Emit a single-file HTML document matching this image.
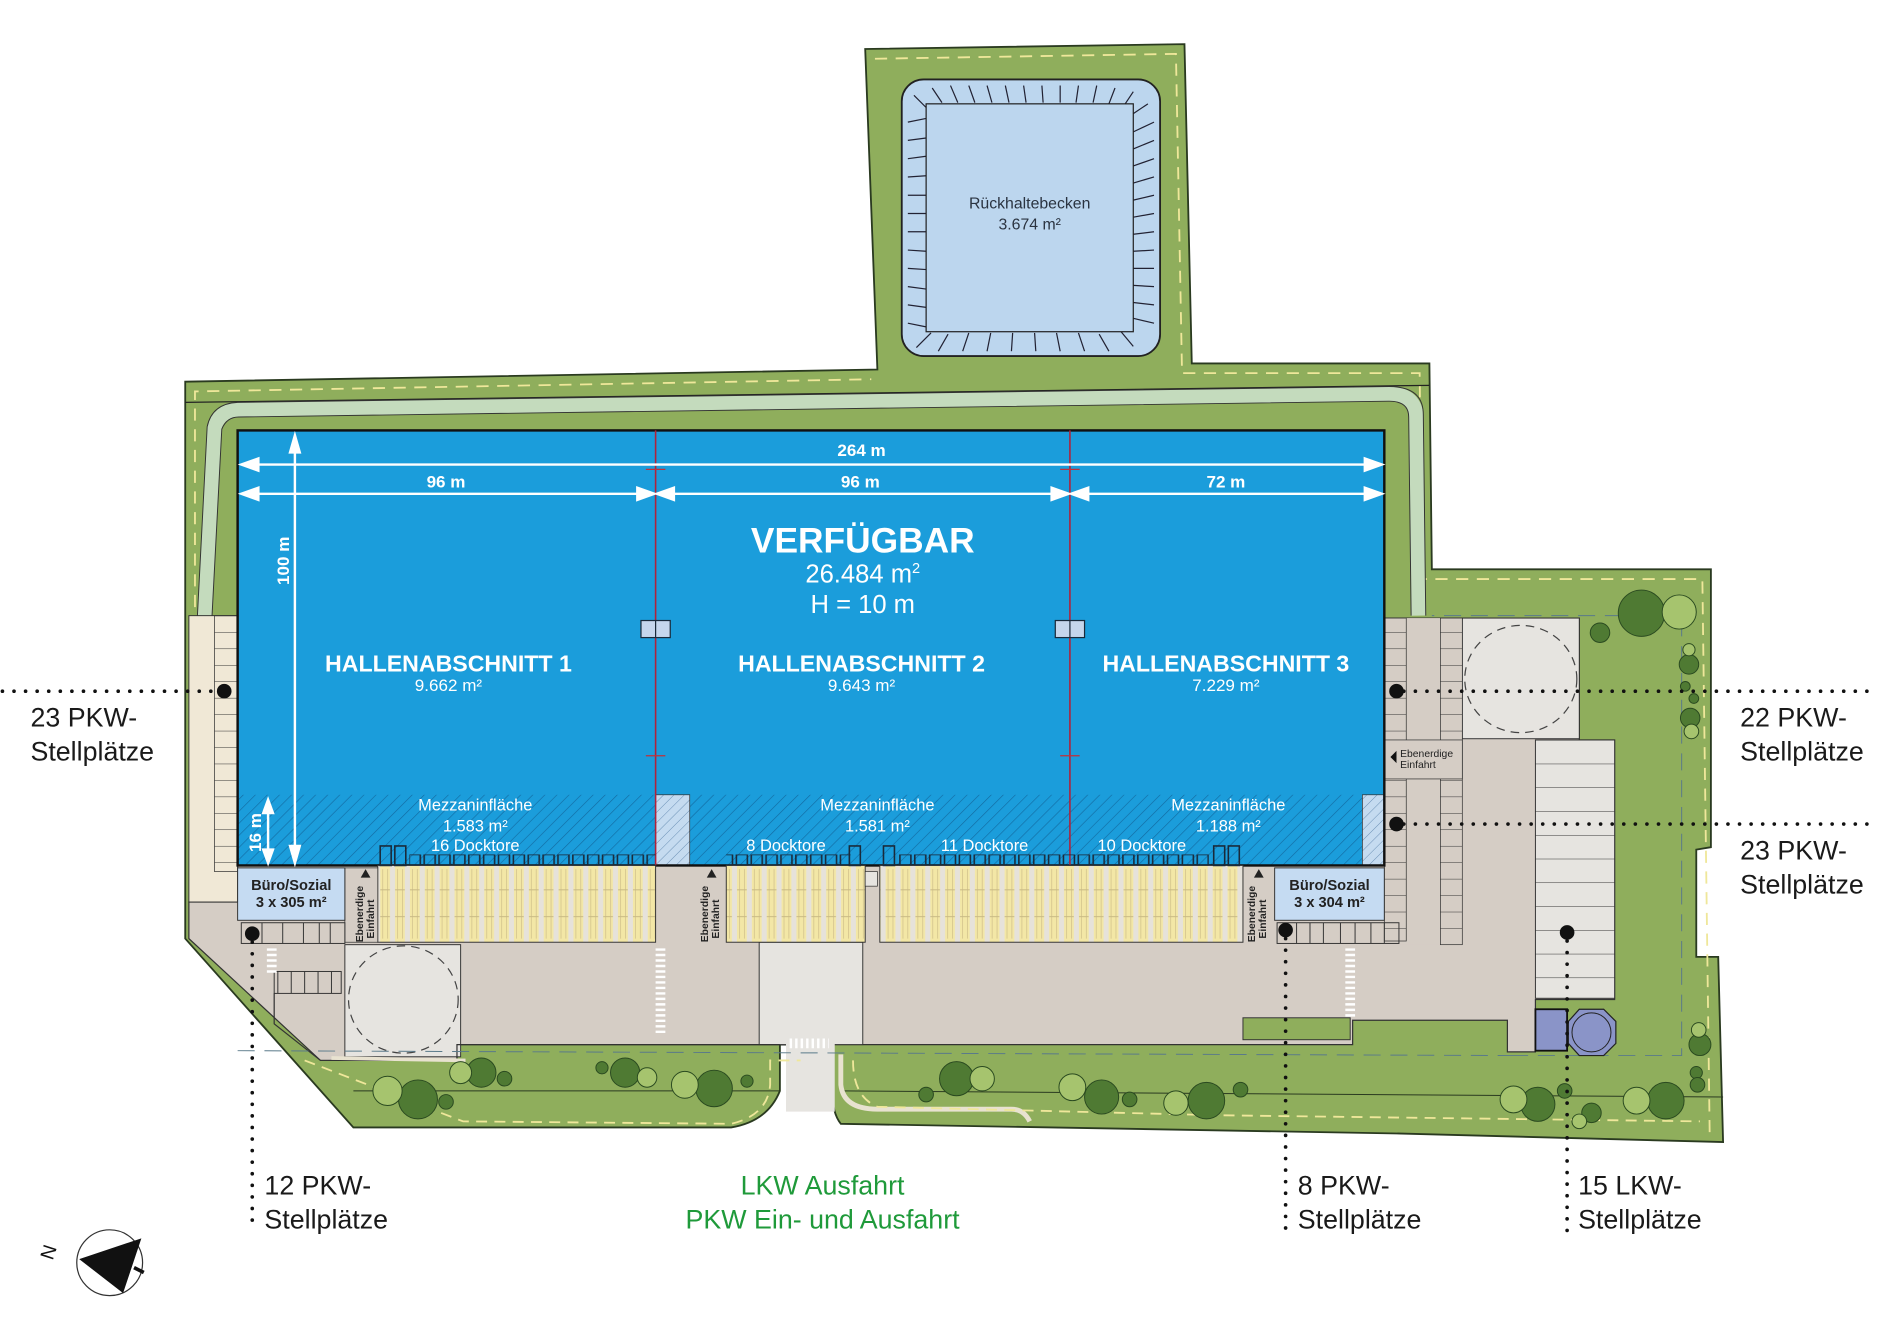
<!DOCTYPE html>
<html><head><meta charset="utf-8"><style>
html,body{margin:0;padding:0;background:#fff;}
svg{display:block;}
text{font-family:"Liberation Sans",sans-serif;}
</style></head><body>
<svg width="1901" height="1330" viewBox="0 0 1560 1091" xmlns="http://www.w3.org/2000/svg">
<defs>
<pattern id="hatch" width="7" height="7" patternUnits="userSpaceOnUse" patternTransform="rotate(45)">
<rect width="7" height="7" fill="#1b9ddb"/><line x1="0" y1="0" x2="0" y2="7" stroke="#126aa0" stroke-width="1"/></pattern>
<pattern id="hatchL" width="6" height="6" patternUnits="userSpaceOnUse" patternTransform="rotate(45)">
<rect width="6" height="6" fill="#c5dbf0"/><line x1="0" y1="0" x2="0" y2="6" stroke="#6a8fb5" stroke-width="0.8"/></pattern>
<pattern id="dock" x="310" y="710" width="12.2" height="63" patternUnits="userSpaceOnUse">
<rect width="12.2" height="63" fill="#e6e2da"/><rect x="2" width="8" height="63" fill="#f3e7a6"/>
<line x1="2" y1="20" x2="10" y2="20" stroke="#b8a878" stroke-width="0.6"/><line x1="2" y1="42" x2="10" y2="42" stroke="#b8a878" stroke-width="0.6"/>
<line x1="4" y1="3" x2="4" y2="60" stroke="#c9b985" stroke-width="0.5"/><line x1="8" y1="3" x2="8" y2="60" stroke="#c9b985" stroke-width="0.5"/></pattern>
<pattern id="doors" x="310" y="700" width="12.2" height="10" patternUnits="userSpaceOnUse">
<rect x="1.5" y="1" width="9" height="9" fill="none" stroke="#1a2a3a" stroke-width="1.3"/></pattern>
<pattern id="stallH" x="0" y="505" width="40" height="13.5" patternUnits="userSpaceOnUse">
<line x1="0" y1="0" x2="40" y2="0" stroke="#333" stroke-width="0.9"/></pattern>
<pattern id="stallH2" x="0" y="607" width="70" height="19.5" patternUnits="userSpaceOnUse">
<line x1="0" y1="0" x2="70" y2="0" stroke="#333" stroke-width="0.9"/></pattern>
</defs>

<!-- land -->
<path d="M710,40 L972,36 L978,298 L1173,298 L1175,467 L1404,467 L1404,695 L1392,697 L1392,785 L1410,785 L1414,937 L1150,930 L690,922 Q682,912 683,890 L683,857 L640,857 L640,895 Q630,920 600,925 L290,925 L152,770 L152,313 L720,303 Z" fill="#8fae5c" stroke="#2a3a20" stroke-width="1.5"/>
<path d="M718,48 L965,44 L970,306 L1165,306 L1167,475 L1397,475 L1403,930" fill="none" stroke="#efe79a" stroke-width="1.5" stroke-dasharray="10,7"/>
<path d="M160,770 L160,321 L715,311" fill="none" stroke="#efe79a" stroke-width="1.5" stroke-dasharray="10,7"/>
<line x1="152" y1="330" x2="1173" y2="316" stroke="#222" stroke-width="1"/>

<!-- light green path -->
<path d="M168,505 L176,350 Q180,337 195,336 L1140,323 Q1160,323 1162,340 L1164,505" fill="none" stroke="#c4dbbd" stroke-width="12"/>
<path d="M162,505 L170,350 Q174,331 195,330 L1140,317 Q1168,317 1168,340 L1170,505" fill="none" stroke="#333" stroke-width="0.8"/>
<path d="M174,505 L182,352 Q186,342 196,342 L1140,329 Q1156,329 1156,342 L1158,505" fill="none" stroke="#333" stroke-width="0.8"/>

<!-- pond -->
<rect x="740" y="65" width="212" height="227" rx="18" fill="#bcd6ee" stroke="#222" stroke-width="1.5"/>
<g stroke="#223" stroke-width="1">
<path d="M750,78 l10,10 M765,72 l8,12 M780,70 l6,14 M795,70 l5,14 M810,70 l4,14 M825,70 l3,14 M840,70 l2,14 M855,70 l1,14 M870,70 l0,14 M885,70 l-2,14 M900,70 l-3,14 M915,72 l-5,13 M930,75 l-8,12 M942,85 l-12,8"/>
<path d="M745,100 l15,-3 M745,115 l15,-2 M745,130 l15,-2 M745,145 l15,-1 M745,160 l15,0 M745,175 l15,0 M745,190 l15,0 M745,205 l15,1 M745,220 l15,1 M745,235 l15,2 M745,250 l15,2 M745,265 l15,3"/>
<path d="M947,100 l-17,8 M947,115 l-17,7 M947,130 l-17,6 M947,145 l-17,5 M947,160 l-17,4 M947,175 l-17,3 M947,190 l-17,2 M947,205 l-17,1 M947,220 l-17,0 M947,235 l-17,-1 M947,250 l-17,-2 M947,265 l-17,-4"/>
<path d="M752,285 l12,-12 M770,288 l8,-14 M790,288 l5,-15 M810,288 l3,-15 M830,288 l1,-15 M850,288 l-1,-15 M870,288 l-3,-15 M890,288 l-5,-15 M910,288 l-8,-14 M930,284 l-10,-12"/>
</g>
<rect x="760" y="85" width="170" height="187" fill="#bcd6ee" stroke="#222" stroke-width="1"/>
<text x="845" y="171" font-size="13" fill="#2a3340" text-anchor="middle">Rückhaltebecken</text>
<text x="845" y="188" font-size="13" fill="#2a3340" text-anchor="middle">3.674 m²</text>

<!-- pavement areas -->
<path d="M155,740 L155,770 L263,870 L375,870 L375,857 L1110,857 L1110,837 L1237,837 L1237,863 L1260,863 L1260,820 L1325,820 L1325,607 L1296,607 L1296,507 L1136,507 L1136,710 L195,710 L195,740 Z" fill="#d5cdc5" stroke="#333" stroke-width="1"/>
<rect x="1200" y="507" width="96" height="99" fill="#e6e4e0" stroke="#333" stroke-width="0.8"/>
<ellipse cx="1248" cy="557" rx="46" ry="44" fill="none" stroke="#444" stroke-dasharray="7,5"/>
<rect x="1260" y="607" width="65" height="212" fill="#e6e4e0" stroke="#333" stroke-width="0.8"/>
<rect x="1260" y="607" width="65" height="212" fill="url(#stallH2)"/>
<rect x="283" y="775" width="95" height="92" fill="#e6e4e0" stroke="#333" stroke-width="0.8"/>
<ellipse cx="331" cy="820" rx="45" ry="44" fill="none" stroke="#444" stroke-dasharray="7,5"/>
<rect x="623" y="773" width="85" height="84" fill="#e6e4e0" stroke="#333" stroke-width="0.8"/>
<rect x="645" y="855" width="40" height="57" fill="#e6e4e0"/>
<rect x="1020" y="835" width="88" height="18" fill="#8fae5c" stroke="#333" stroke-width="0.8"/>
<rect x="225" y="797" width="55" height="18" fill="#d5cdc5" stroke="#333" stroke-width="0.8"/>
<path d="M225,815 L225,840 L263,870" fill="none" stroke="#333" stroke-width="1"/>
<!-- crosswalks -->
<line x1="223" y1="778" x2="223" y2="798" stroke="#fff" stroke-width="8" stroke-dasharray="2,2.5"/>
<line x1="542" y1="778" x2="542" y2="848" stroke="#fff" stroke-width="8" stroke-dasharray="2,2.5"/>
<line x1="1108" y1="778" x2="1108" y2="835" stroke="#fff" stroke-width="8" stroke-dasharray="2,2.5"/>
<line x1="648" y1="856" x2="680" y2="856" stroke="#fff" stroke-width="8" stroke-dasharray="2,2.5"/>

<!-- left parking strip -->
<rect x="155" y="505" width="40" height="235" fill="#f0e8d6" stroke="#333" stroke-width="0.8"/>
<rect x="176" y="505" width="19" height="210" fill="url(#stallH)" stroke="#333" stroke-width="0.6"/>
<!-- right parking -->
<rect x="1136" y="507" width="64" height="268" fill="#d5cdc5"/>
<rect x="1136" y="507" width="18" height="265" fill="url(#stallH)" stroke="#333" stroke-width="0.6"/>
<rect x="1182" y="507" width="18" height="268" fill="url(#stallH)" stroke="#333" stroke-width="0.6"/>
<rect x="1136" y="607" width="64" height="32" fill="#d5cdc5" stroke="#333" stroke-width="0.6"/>
<path d="M1146,616 l-5,5 l5,5 z" fill="#111"/>
<text x="1149" y="621" font-size="8.5" fill="#222">Ebenerdige</text>
<text x="1149" y="630" font-size="8.5" fill="#222">Einfahrt</text>

<!-- building -->
<rect x="195" y="353" width="941" height="300" fill="#1b9ddb"/>
<rect x="195" y="652" width="941" height="58" fill="url(#hatch)"/>
<rect x="538" y="652" width="28" height="58" fill="url(#hatchL)" stroke="#333" stroke-width="0.6"/>
<rect x="1118" y="652" width="18" height="58" fill="url(#hatchL)" stroke="#333" stroke-width="0.6"/>
<rect x="195" y="353" width="941" height="357" fill="none" stroke="#111" stroke-width="2"/>
<line x1="538" y1="353" x2="538" y2="710" stroke="#b0223a" stroke-width="1.3"/>
<line x1="878" y1="353" x2="878" y2="710" stroke="#b0223a" stroke-width="1.3"/>
<g stroke="#c0303a" stroke-width="1"><line x1="530" y1="385" x2="546" y2="385"/><line x1="870" y1="385" x2="886" y2="385"/><line x1="530" y1="620" x2="546" y2="620"/><line x1="870" y1="620" x2="886" y2="620"/></g>
<rect x="526" y="509" width="24" height="14" fill="#c5d6ec" stroke="#1a2a3a"/><line x1="538" y1="509" x2="538" y2="523" stroke="#1a2a3a"/>
<rect x="866" y="509" width="24" height="14" fill="#c5d6ec" stroke="#1a2a3a"/><line x1="878" y1="509" x2="878" y2="523" stroke="#1a2a3a"/>

<!-- dimension lines -->
<g stroke="#fff" stroke-width="2" fill="#fff">
<line x1="205" y1="381" x2="1125" y2="381"/><path d="M198,381 l14,-5 v10z M1134,381 l-14,-5 v10z"/>
<line x1="205" y1="405" x2="530" y2="405"/><path d="M198,405 l14,-5 v10z M537,405 l-14,-5 v10z"/>
<line x1="547" y1="405" x2="870" y2="405"/><path d="M539,405 l14,-5 v10z M877,405 l-14,-5 v10z"/>
<line x1="887" y1="405" x2="1125" y2="405"/><path d="M879,405 l14,-5 v10z M1134,405 l-14,-5 v10z"/>
<line x1="242" y1="366" x2="242" y2="698"/><path d="M242,357 l-4,14 h8z M242,708 l-4,-14 h8z"/>
<line x1="220" y1="664" x2="220" y2="700"/><path d="M220,656 l-4,11 h8z M220,708 l-4,-11 h8z"/>
</g>
<g fill="#fff" text-anchor="middle" font-weight="bold">
<text x="707" y="374" font-size="14">264 m</text>
<text x="366" y="400" font-size="14">96 m</text>
<text x="706" y="400" font-size="14">96 m</text>
<text x="1006" y="400" font-size="14">72 m</text>
<text transform="translate(237,460) rotate(-90)" font-size="14">100 m</text>
<text transform="translate(214,683) rotate(-90)" font-size="14">16 m</text>
<text x="708" y="453" font-size="29">VERFÜGBAR</text>
<text x="368" y="551" font-size="19">HALLENABSCHNITT  1</text>
<text x="707" y="551" font-size="19">HALLENABSCHNITT  2</text>
<text x="1006" y="551" font-size="19">HALLENABSCHNITT  3</text>
</g>
<g fill="#fff" text-anchor="middle">
<text x="708" y="478" font-size="21">26.484 m<tspan font-size="12" dy="-8">2</tspan></text>
<text x="708" y="503" font-size="21">H = 10 m</text>
<text x="368" y="567" font-size="14">9.662 m²</text>
<text x="707" y="567" font-size="14">9.643 m²</text>
<text x="1006" y="567" font-size="14">7.229 m²</text>
<text x="390" y="665" font-size="13.5">Mezzaninfläche</text>
<text x="390" y="682" font-size="13.5">1.583 m²</text>
<text x="390" y="698" font-size="13.5">16 Docktore</text>
<text x="720" y="665" font-size="13.5">Mezzaninfläche</text>
<text x="720" y="682" font-size="13.5">1.581 m²</text>
<text x="645" y="698" font-size="13.5">8 Docktore</text>
<text x="808" y="698" font-size="13.5">11 Docktore</text>
<text x="1008" y="665" font-size="13.5">Mezzaninfläche</text>
<text x="1008" y="682" font-size="13.5">1.188 m²</text>
<text x="937" y="698" font-size="13.5">10 Docktore</text>
</g>

<!-- docks -->
<rect x="310" y="710" width="228" height="63" fill="url(#dock)" stroke="#333" stroke-width="0.8"/>
<rect x="596" y="710" width="114" height="63" fill="url(#dock)" stroke="#333" stroke-width="0.8"/>
<rect x="722" y="710" width="298" height="63" fill="url(#dock)" stroke="#333" stroke-width="0.8"/>
<rect x="710" y="715" width="10" height="12" fill="#e6e4e0" stroke="#333" stroke-width="0.6"/>
<rect x="336" y="701" width="202" height="9" fill="url(#doors)"/>
<rect x="596" y="701" width="102" height="9" fill="url(#doors)"/>
<rect x="736" y="701" width="256" height="9" fill="url(#doors)"/>
<g fill="none" stroke="#1a2a3a" stroke-width="1.3"><rect x="312" y="694" width="9" height="16"/><rect x="324" y="694" width="9" height="16"/><rect x="697" y="694" width="9" height="16"/><rect x="725" y="694" width="9" height="16"/><rect x="996" y="694" width="9" height="16"/><rect x="1008" y="694" width="9" height="16"/></g>
<!-- Ebenerdige Einfahrt -->
<g fill="#222" font-size="8.5" font-weight="bold">
<rect x="283" y="712" width="27" height="61" fill="#d5cdc5" stroke="#333" stroke-width="0.6"/>
<text transform="translate(298,773) rotate(-90)">Ebenerdige</text><text transform="translate(307,770) rotate(-90)">Einfahrt</text>
<path d="M300,713 l-4,7 h8z"/>
<text transform="translate(581,773) rotate(-90)">Ebenerdige</text><text transform="translate(590,770) rotate(-90)">Einfahrt</text>
<path d="M584,713 l-4,7 h8z"/>
<text transform="translate(1030,773) rotate(-90)">Ebenerdige</text><text transform="translate(1039,770) rotate(-90)">Einfahrt</text>
<path d="M1033,713 l-4,7 h8z"/>
</g>
<!-- offices -->
<rect x="195" y="712" width="88" height="43" fill="#c5dbf2" stroke="#333" stroke-width="0.8"/>
<text x="239" y="730" font-size="12" font-weight="bold" fill="#222" text-anchor="middle">Büro/Sozial</text>
<text x="239" y="744" font-size="12" font-weight="bold" fill="#222" text-anchor="middle">3 x 305 m²</text>
<rect x="1046" y="712" width="90" height="43" fill="#c5dbf2" stroke="#333" stroke-width="0.8"/>
<text x="1091" y="730" font-size="12" font-weight="bold" fill="#222" text-anchor="middle">Büro/Sozial</text>
<text x="1091" y="744" font-size="12" font-weight="bold" fill="#222" text-anchor="middle">3 x 304 m²</text>
<g fill="none" stroke="#333" stroke-width="0.8">
<rect x="198" y="757" width="85" height="17"/><path d="M215,757 v17 M232,757 v17 M249,757 v17 M262,757 v17 M271,757 v17"/>
<rect x="1048" y="757" width="100" height="17"/><path d="M1064,757 v17 M1075,757 v17 M1086,757 v17 M1100,757 v17 M1112,757 v17 M1125,757 v17 M1136,757 v17"/>
<path d="M228,797 v18 M239,797 v18 M250,797 v18 M261,797 v18 M272,797 v18"/>
</g>

<!-- road edges and bottom green separators -->
<path d="M263,870 L375,870 L375,857 L640,857" fill="none" stroke="#333"/>
<line x1="290" y1="895" x2="640" y2="895" stroke="#2a3a20" stroke-width="0.8"/>
<line x1="690" y1="895" x2="1414" y2="900" stroke="#2a3a20" stroke-width="0.8"/>
<path d="M690,865 L690,890 Q692,910 720,910 L830,910 Q840,910 845,920" fill="none" stroke="#e8e2d0" stroke-width="4"/>
<path d="M272,868 L382,870" fill="none" stroke="#e8e2d0" stroke-width="3"/>
<path d="M250,870 L380,920 L600,922 Q630,915 632,890 L632,870 L657,870" fill="none" stroke="#efe79a" stroke-width="1.5" stroke-dasharray="9,6"/>
<path d="M700,870 Q700,900 720,908 L1000,915 L1395,920" fill="none" stroke="#efe79a" stroke-width="1.5" stroke-dasharray="9,6"/>
<path d="M195,862 L1240,866 M1240,866 L1380,866 L1380,505 L1175,505" fill="none" stroke="#5a7a8a" stroke-width="0.8" stroke-dasharray="14,8"/>

<!-- tanks -->
<rect x="1260" y="828" width="26" height="34" fill="#8a94c8" stroke="#111" stroke-width="1.5"/>
<polygon points="1296,828 1316,828 1326,838 1326,856 1316,866 1296,866 1287,856 1287,838" fill="#8a94c8" stroke="#222"/>
<circle cx="1306" cy="847" r="16" fill="none" stroke="#222" stroke-width="0.8"/>

<!-- trees -->
<g stroke="#2a4a20" stroke-width="0.8">
<circle cx="343" cy="902" r="16" fill="#4f7a33"/><circle cx="318" cy="895" r="12" fill="#a6c46e"/><circle cx="366" cy="904" r="6" fill="#4f7a33"/>
<circle cx="395" cy="880" r="12" fill="#4f7a33"/><circle cx="378" cy="880" r="9" fill="#a6c46e"/><circle cx="414" cy="885" r="6" fill="#4f7a33"/>
<circle cx="513" cy="880" r="12" fill="#4f7a33"/><circle cx="531" cy="884" r="8" fill="#a6c46e"/><circle cx="494" cy="876" r="5" fill="#4f7a33"/>
<circle cx="586" cy="893" r="15" fill="#4f7a33"/><circle cx="562" cy="890" r="11" fill="#a6c46e"/><circle cx="613" cy="887" r="5" fill="#4f7a33"/>
<circle cx="785" cy="885" r="14" fill="#4f7a33"/><circle cx="806" cy="885" r="10" fill="#a6c46e"/><circle cx="760" cy="898" r="6" fill="#4f7a33"/>
<circle cx="904" cy="900" r="14" fill="#4f7a33"/><circle cx="880" cy="892" r="11" fill="#a6c46e"/><circle cx="927" cy="902" r="6" fill="#4f7a33"/>
<circle cx="990" cy="903" r="15" fill="#4f7a33"/><circle cx="965" cy="905" r="10" fill="#a6c46e"/><circle cx="1018" cy="894" r="6" fill="#4f7a33"/>
<circle cx="1262" cy="906" r="14" fill="#4f7a33"/><circle cx="1242" cy="902" r="11" fill="#a6c46e"/><circle cx="1284" cy="895" r="6" fill="#4f7a33"/><circle cx="1306" cy="913" r="8" fill="#4f7a33"/><circle cx="1296" cy="920" r="6" fill="#a6c46e"/>
<circle cx="1367" cy="903" r="15" fill="#4f7a33"/><circle cx="1343" cy="903" r="11" fill="#a6c46e"/>
<circle cx="1395" cy="857" r="9" fill="#4f7a33"/><circle cx="1394" cy="845" r="6" fill="#a6c46e"/><circle cx="1392" cy="880" r="5" fill="#4f7a33"/><circle cx="1393" cy="890" r="6" fill="#4f7a33"/>
<circle cx="1347" cy="503" r="19" fill="#4f7a33"/><circle cx="1378" cy="502" r="14" fill="#a6c46e"/><circle cx="1313" cy="519" r="8" fill="#4f7a33"/>
<circle cx="1386" cy="545" r="8" fill="#4f7a33"/><circle cx="1386" cy="533" r="5" fill="#a6c46e"/><circle cx="1383" cy="563" r="4" fill="#4f7a33"/><circle cx="1390" cy="573" r="4" fill="#4f7a33"/><circle cx="1387" cy="589" r="8" fill="#4f7a33"/><circle cx="1388" cy="600" r="6" fill="#a6c46e"/>
</g>

<!-- dots & callouts -->
<g fill="#111">
<circle cx="184" cy="567" r="6"/><circle cx="1146" cy="567" r="6"/><circle cx="1146" cy="676" r="6"/>
<circle cx="207" cy="766" r="6"/><circle cx="1055" cy="763" r="6"/><circle cx="1286" cy="765" r="6"/>
</g>
<g stroke="#111" stroke-width="3" stroke-linecap="round" stroke-dasharray="0,9.5" fill="none">
<line x1="2" y1="567" x2="180" y2="567"/>
<line x1="1152" y1="567" x2="1540" y2="567"/>
<line x1="1152" y1="676" x2="1540" y2="676"/>
<line x1="207" y1="773" x2="207" y2="1010"/>
<line x1="1055" y1="770" x2="1055" y2="1010"/>
<line x1="1286" y1="772" x2="1286" y2="1010"/>
</g>
<g font-size="22" fill="#1a1a1a">
<text x="25" y="596">23 PKW-</text><text x="25" y="624">Stellplätze</text>
<text x="1428" y="596">22 PKW-</text><text x="1428" y="624">Stellplätze</text>
<text x="1428" y="705">23 PKW-</text><text x="1428" y="733">Stellplätze</text>
<text x="217" y="980">12 PKW-</text><text x="217" y="1008">Stellplätze</text>
<text x="1065" y="980">8 PKW-</text><text x="1065" y="1008">Stellplätze</text>
<text x="1295" y="980">15 LKW-</text><text x="1295" y="1008">Stellplätze</text>
</g>
<g font-size="22" fill="#1f9a3a" text-anchor="middle">
<text x="675" y="980">LKW Ausfahrt</text><text x="675" y="1008">PKW Ein- und Ausfahrt</text>
</g>

<!-- compass -->
<circle cx="90" cy="1036" r="27" fill="#fff" stroke="#333"/>
<polygon points="65,1033 116,1016 101,1061" fill="#111"/>
<line x1="110" y1="1040" x2="118" y2="1044" stroke="#111" stroke-width="3"/>
<text transform="translate(45,1029) rotate(-72)" font-size="16" fill="#111" text-anchor="middle">N</text>
</svg>
</body></html>
